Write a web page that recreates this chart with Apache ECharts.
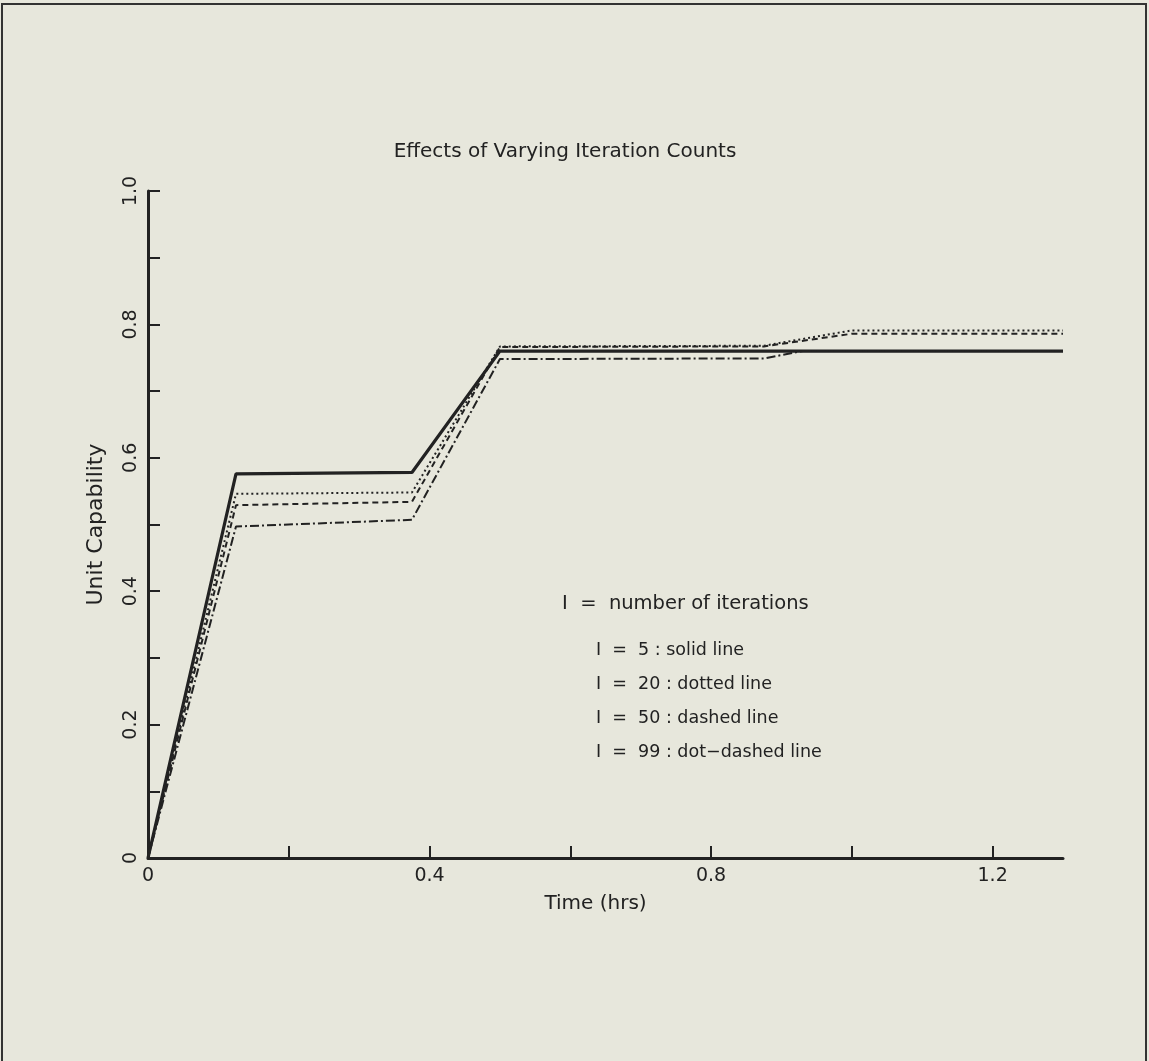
<!DOCTYPE html>
<html>
<head>
<meta charset="utf-8">
<script src="https://cdn.jsdelivr.net/npm/echarts@6/dist/echarts.min.js"></script>
<style>
html,body{margin:0;padding:0;background:#e7e7dc;}
#chart{width:1149px;height:1061px;}
</style>
</head>
<body>
<div id="chart"></div>
<script>
// ---- data ----
var chartTitle = 'Effects of Varying Iteration Counts';
var xName = 'Time (hrs)';
var yName = 'Unit Capability';
var xTicks = [0, 0.2, 0.4, 0.6, 0.8, 1.0, 1.2];
var xTickLabels = [0, 0.4, 0.8, 1.2];
var yTicks = [0, 0.1, 0.2, 0.3, 0.4, 0.5, 0.6, 0.7, 0.8, 0.9, 1.0];
var yTickLabels = [0, 0.2, 0.4, 0.6, 0.8, 1.0];

var i5 = [[0, 0], [0.125, 0.576], [0.375, 0.578], [0.5, 0.760], [1.3, 0.760]];
var i20 = [[0, 0], [0.125, 0.546], [0.375, 0.548], [0.5, 0.767], [0.875, 0.768], [1.0, 0.791], [1.3, 0.791]];
var i50 = [[0, 0], [0.125, 0.529], [0.375, 0.534], [0.5, 0.766], [0.875, 0.767], [1.0, 0.786], [1.3, 0.786]];
var i99 = [[0, 0], [0.125, 0.497], [0.375, 0.507], [0.5, 0.748], [0.875, 0.749], [0.93, 0.760], [1.3, 0.760]];

var legendHeader = 'I  =  number of iterations';
var legendLines = ['I  =  5 : solid line', 'I  =  20 : dotted line', 'I  =  50 : dashed line', 'I  =  99 : dot\u2212dashed line'];

// ---- chart ----
var ink = '#222222';
var font = 'DejaVu Sans';
var chart = echarts.init(document.getElementById('chart'));

var graphics = [
  {type: 'rect', shape: {x: 2, y: 4, width: 1144, height: 1080}, style: {fill: 'none', stroke: '#333', lineWidth: 2}, silent: true},
  {type: 'text', x: 565, y: 152, style: {text: chartTitle, fill: ink, font: '20px "' + font + '"', textAlign: 'center', textVerticalAlign: 'middle'}}
];
graphics.push({type: 'text', x: 562, y: 604, style: {text: legendHeader, fill: ink, font: '19.5px "' + font + '"', textAlign: 'left', textVerticalAlign: 'middle'}});
legendLines.forEach(function (t, k) {
  graphics.push({type: 'text', x: 596, y: 650 + k * 34, style: {text: t, fill: ink, font: '17.5px "' + font + '"', textAlign: 'left', textVerticalAlign: 'middle'}});
});

function mk(name, data, w, dash) {
  return {type: 'line', name: name, data: data, symbol: 'none', animation: false,
    lineStyle: {color: ink, width: w, type: dash}, z: 3};
}

chart.setOption({
  backgroundColor: '#e7e7dc',
  animation: false,
  grid: {left: 148, right: 86, top: 191, bottom: 203, containLabel: false},
  xAxis: {
    type: 'value', min: 0, max: 1.3,
    name: xName, nameLocation: 'middle', nameGap: 36,
    nameTextStyle: {color: ink, fontSize: 20, fontFamily: font, padding: [0, 20, 0, 0]},
    axisLine: {show: true, onZero: false, lineStyle: {color: ink, width: 3}},
    axisTick: {show: true, inside: true, length: 12, customValues: xTicks, lineStyle: {color: ink, width: 2}},
    axisLabel: {customValues: xTickLabels, color: ink, fontSize: 19, fontFamily: font, margin: 9,
      formatter: function (v) { return String(Math.round(v * 10) / 10); }},
    splitLine: {show: false}
  },
  yAxis: {
    type: 'value', min: 0, max: 1,
    name: yName, nameLocation: 'middle', nameGap: 41,
    nameTextStyle: {color: ink, fontSize: 22, fontFamily: font},
    axisLine: {show: true, onZero: false, lineStyle: {color: ink, width: 3}},
    axisTick: {show: true, inside: true, length: 12, customValues: yTicks, lineStyle: {color: ink, width: 2}},
    axisLabel: {customValues: yTickLabels, color: ink, fontSize: 19, fontFamily: font, margin: 7, rotate: 90,
      formatter: function (v) { return v === 0 ? '0' : (Math.round(v * 10) / 10).toFixed(1); }},
    splitLine: {show: false}
  },
  series: [
    mk('I = 5', i5, 3.2, 'solid'),
    mk('I = 20', i20, 2, [2, 3]),
    mk('I = 50', i50, 2, [6, 4]),
    mk('I = 99', i99, 2, [9, 3, 2, 3])
  ],
  graphic: graphics
});
</script>
</body>
</html>
